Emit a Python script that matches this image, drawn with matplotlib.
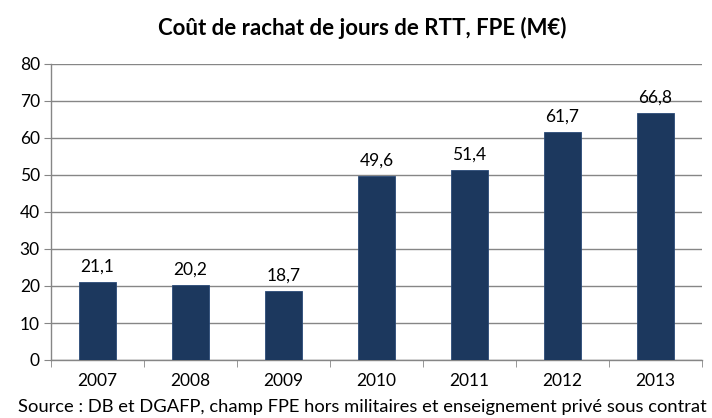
import matplotlib
matplotlib.use("Agg")
import matplotlib.pyplot as plt

# données
annees = ["2007", "2008", "2009", "2010", "2011", "2012", "2013"]
cout = [21.1, 20.2, 18.7, 49.6, 51.4, 61.7, 66.8]
etiquettes = ["21,1", "20,2", "18,7", "49,6", "51,4", "61,7", "66,8"]

plt.rcParams['font.family'] = ['Lato', 'DejaVu Sans']

fig = plt.figure(figsize=(7.12, 4.18), dpi=100)
ax = fig.add_axes([51 / 712, 58 / 418, 651 / 712, 296 / 418])

x = range(len(annees))
ax.bar(x, cout, width=0.4, color="#1c385e", edgecolor="#2a4a78", linewidth=0.6, zorder=3)

for i, v in enumerate(cout):
    ax.text(i, v + 2.0, etiquettes[i], ha="center", va="bottom", fontsize=12.5)

ax.set_xlim(-0.5, len(annees) - 0.5)
ax.set_ylim(0, 80)
ax.set_yticks(range(0, 81, 10))
ax.set_xticks(list(x))
ax.set_xticklabels(annees)
ax.set_xticks([i - 0.5 for i in range(len(annees) + 1)], minor=True)
ax.tick_params(axis="x", which="major", length=0, pad=9, labelsize=12.5)
ax.tick_params(axis="x", which="minor", length=5, color="#868686")
ax.tick_params(axis="y", length=5, color="#868686", labelsize=12.5, pad=3)
ax.grid(axis="y", color="#868686", linewidth=1, zorder=0)

for s in ["top", "right"]:
    ax.spines[s].set_visible(False)
for s in ["left", "bottom"]:
    ax.spines[s].set_color("#868686")
    ax.spines[s].set_linewidth(1)

fig.text(362 / 712, 1 - 28 / 418, "Coût de rachat de jours de RTT, FPE (M€)",
         ha="center", va="center", fontsize=16, fontweight="bold")
fig.text(362 / 712, 1 - 407 / 418,
         "Source : DB et DGAFP, champ FPE hors militaires et enseignement privé sous contrat",
         ha="center", va="center", fontsize=13.2)

fig.savefig("out.png", dpi=100)
